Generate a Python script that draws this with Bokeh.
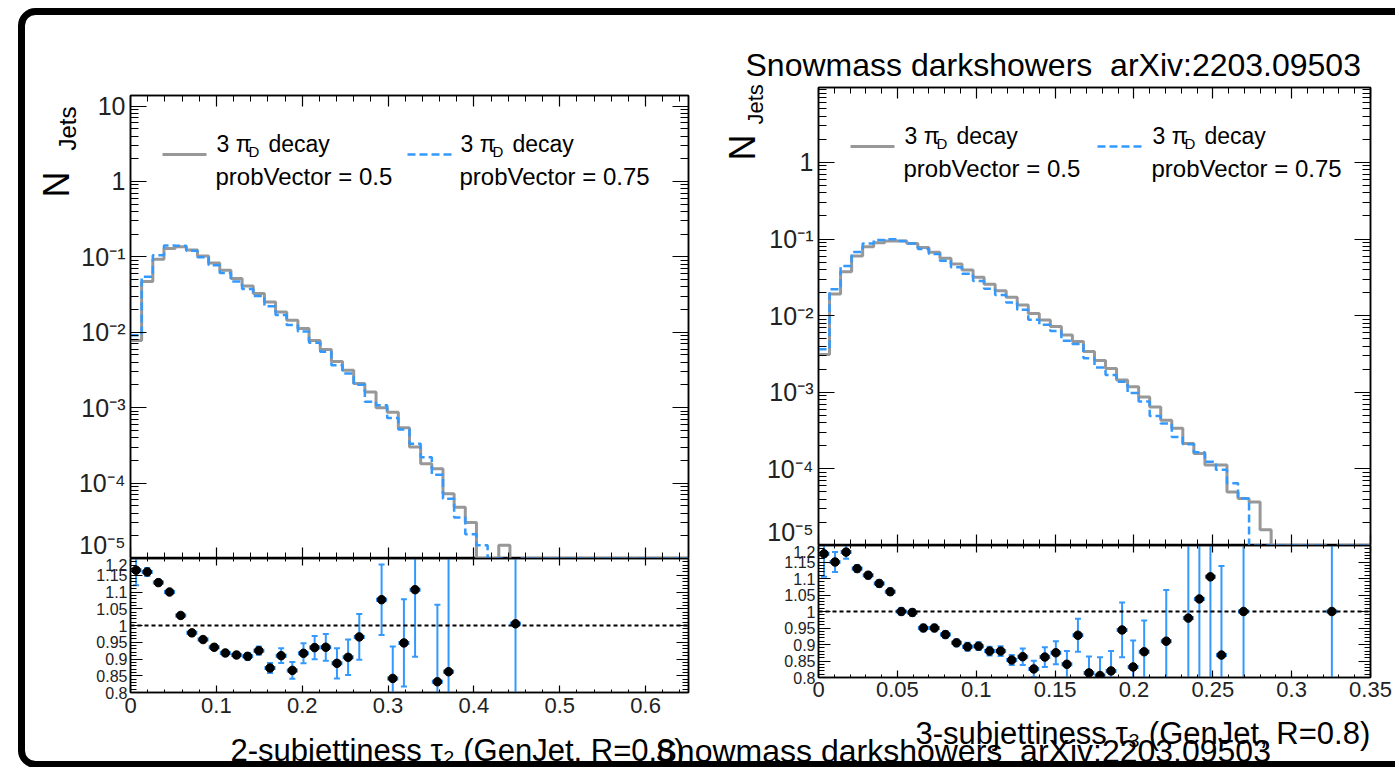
import math
from bokeh.plotting import figure
from bokeh.models import (Range1d, FixedTicker, LinearAxis, LogAxis, Span, Label,
                          ColumnDataSource, CustomJSTickFormatter, BoxAnnotation)
from bokeh.layouts import column, row
from bokeh.embed import file_html
from bokeh.resources import INLINE

# ------------------------------------------------------------------ data
# tau2 panel: 50 bins on [0, 0.65]
tau2_range = (0.0, 0.65)
tau2_nbins = 50
tau2_pv050 = [0.0078, 0.047, 0.093, 0.129, 0.136, 0.123, 0.103, 0.083, 0.0665, 0.0515,
              0.0412, 0.0326, 0.0253, 0.0186, 0.0144, 0.0112, 0.0078, 0.0059, 0.0041, 0.00313,
              0.00209, 0.00162, 0.00100, 0.00087, 0.00054, 0.00030, 0.00018, 0.000155, 7.2e-5, 4.8e-5,
              3.0e-5, 0, 0, 1.5e-5, 8e-6, 0, 0, 0, 0, 0,
              0, 0, 0, 0, 0, 0, 0, 0, 0, 0]
tau2_pv075 = [0.0091, 0.0545, 0.105, 0.142, 0.140, 0.1203, 0.0987, 0.0776, 0.0610, 0.0470,
              0.0374, 0.0302, 0.0221, 0.0169, 0.01247, 0.01027, 0.00729, 0.00552, 0.00364, 0.00283,
              0.00202, 0.0012, 0.00108, 0.00073, 0.000512, 0.000332, 0.00022, 0.000129, 6.2e-5, 3.5e-5,
              2.1e-5, 1.5e-5, 0, 0, 8e-6, 0, 0, 0, 0, 0,
              0, 0, 0, 0, 0, 0, 0, 0, 0, 0]
tau2_ratio_x = [0.0065, 0.0195, 0.0325, 0.0455, 0.0585, 0.0715, 0.0845, 0.0975, 0.1105, 0.1235,
                0.1365, 0.1495, 0.1625, 0.1755, 0.1885, 0.2015, 0.2145, 0.2275, 0.2405, 0.2535,
                0.2665, 0.2925, 0.3055, 0.3185, 0.3315, 0.3575, 0.3705, 0.4485]
tau2_ratio = [1.165, 1.16, 1.128, 1.10, 1.03, 0.978, 0.958, 0.935, 0.918, 0.912,
              0.908, 0.925, 0.873, 0.91, 0.866, 0.917, 0.934, 0.935, 0.887, 0.905,
              0.966, 1.077, 0.842, 0.948, 1.107, 0.832, 0.862, 1.005]
tau2_ratio_err = [0.045, 0.012, 0.008, 0.007, 0.007, 0.007, 0.007, 0.008, 0.008, 0.009,
                  0.01, 0.012, 0.015, 0.022, 0.025, 0.03, 0.035, 0.04, 0.045, 0.053,
                  0.068, 0.105, 0.095, 0.13, 0.2, 0.23, 0.35, 0.6]

# tau3 panel: 50 bins on [0, 0.35]
tau3_range = (0.0, 0.35)
tau3_nbins = 50
tau3_pv050 = [0.0031, 0.0192, 0.0375, 0.060, 0.079, 0.0896, 0.094, 0.094, 0.0877, 0.0778,
              0.067, 0.056, 0.0472, 0.0394, 0.0317, 0.0256, 0.0212, 0.0174, 0.0138, 0.0107,
              0.0088, 0.0072, 0.0056, 0.0046, 0.0034, 0.0026, 0.00205, 0.00145, 0.00118, 0.00087,
              0.00064, 0.00043, 0.00034, 0.000215, 0.000159, 0.000112, 0.000112, 5.0e-5, 4.1e-5, 3.7e-5,
              1.6e-5, 0, 0, 0, 0, 0, 8e-6, 0, 0, 0]
tau3_pv075 = [0.00364, 0.0221, 0.0443, 0.0678, 0.0877, 0.0972, 0.0996, 0.094, 0.0874, 0.0739,
              0.0637, 0.0521, 0.0427, 0.0352, 0.0284, 0.0225, 0.01866, 0.01484, 0.01191, 0.00884,
              0.00759, 0.0063, 0.0047, 0.00427, 0.00277, 0.0021, 0.00168, 0.00137, 0.00098, 0.00076,
              0.00049, 0.00039, 0.00026, 0.00021, 0.000165, 0.000124, 0.0000972, 6.5e-5, 4.1e-5, 0,
              0, 0, 0, 0, 0, 0, 8e-6, 0, 0, 0]
tau3_ratio_x = [0.0035, 0.0105, 0.0175, 0.0245, 0.0315, 0.0385, 0.0455, 0.0525, 0.0595, 0.0665,
                0.0735, 0.0805, 0.0875, 0.0945, 0.1015, 0.1085, 0.1155, 0.1225, 0.1295, 0.1365,
                0.1435, 0.1505, 0.1575, 0.1645, 0.1715, 0.1785, 0.1855, 0.1925, 0.1995, 0.2065,
                0.2205, 0.2345, 0.2415, 0.2485, 0.2555, 0.2695, 0.3255]
tau3_ratio = [1.175, 1.15, 1.18, 1.13, 1.11, 1.085, 1.06, 1.0, 0.997, 0.95,
              0.95, 0.93, 0.905, 0.893, 0.895, 0.88, 0.88, 0.853, 0.863, 0.826,
              0.862, 0.875, 0.84, 0.928, 0.814, 0.806, 0.82, 0.944, 0.832, 0.878,
              0.91, 0.98, 1.038, 1.105, 0.868, 1.0, 1.0]
tau3_ratio_err = [0.07, 0.03, 0.02, 0.01, 0.01, 0.01, 0.01, 0.01, 0.01, 0.01,
                  0.01, 0.01, 0.01, 0.012, 0.012, 0.013, 0.015, 0.015, 0.025, 0.025,
                  0.03, 0.035, 0.04, 0.05, 0.05, 0.055, 0.06, 0.083, 0.08, 0.095,
                  0.155, 0.25, 0.3, 0.35, 0.27, 0.5, 0.5]

legend_line1 = "3 \u03c0"
legend_sub = "D"
legend_line1b = "decay"
legend_line2 = ["probVector = 0.5", "probVector = 0.75"]
tau2_title = "2-subjettiness \u03c4\u2082 (GenJet, R=0.8)"
tau3_title = "3-subjettiness \u03c4\u2083 (GenJet, R=0.8)"
tag_text = "Snowmass darkshowers \u00a0arXiv:2203.09503"

# ------------------------------------------------------------------ style
FONT = "Liberation Sans"
GREY = "#989898"
BLUE = "#3399ff"
YMIN = 1e-5
GREY_STYLE = dict(line_color=GREY, line_width=3)
BLUE_STYLE = dict(line_color=BLUE, line_width=2.5, line_dash="8 4")

LOG_FMT = CustomJSTickFormatter(code="""
const e = Math.round(Math.log10(tick));
if (e === 0) return "1";
if (e === 1) return "10";
const sup = {"-": "\\u207b", "0": "\\u2070", "1": "\\u00b9", "2": "\\u00b2", "3": "\\u00b3",
             "4": "\\u2074", "5": "\\u2075", "6": "\\u2076"};
return "10" + String(e).split("").map(c => sup[c]).join("");
""")
LIN_FMT = CustomJSTickFormatter(code="""
if (Math.abs(tick) < 1e-9) return "0";
return String(+tick.toFixed(3));
""")
NO_FMT = CustomJSTickFormatter(code="return '';")


def style_axis(ax, major_in, minor_in, labels, size="22px", standoff=4):
    ax.major_tick_in = major_in
    ax.major_tick_out = 0
    ax.minor_tick_in = minor_in
    ax.minor_tick_out = 0
    ax.axis_line_color = "black"
    ax.axis_line_width = 1.5
    ax.major_tick_line_color = "black"
    ax.minor_tick_line_color = "black"
    ax.major_tick_line_width = 1.2
    ax.minor_tick_line_width = 1.0
    ax.axis_label = None
    if labels:
        ax.major_label_text_font = FONT
        ax.major_label_text_font_size = size
        ax.major_label_text_color = "#222222"
        ax.major_label_standoff = standoff
    else:
        ax.formatter = NO_FMT
        ax.major_label_text_font_size = "2px"
        ax.major_label_standoff = 0


def lin_ticks(lo, hi, step, sub):
    n = int(math.floor((hi - lo) / step + 1e-6))
    major = [round(lo + i * step, 6) for i in range(n + 1)]
    fine = step / sub
    m = int(math.floor((hi - lo) / fine + 1e-6))
    minor = [round(lo + i * fine, 6) for i in range(m + 1) if i % sub]
    return major, minor


def base_fig(fw, fh, xr, yr, bl, br, bt, bb, log=False):
    kw = dict(y_axis_type="log") if log else {}
    p = figure(frame_width=fw, frame_height=fh, x_range=xr, y_range=yr,
               output_backend="svg", toolbar_location=None,
               min_border_left=bl, min_border_right=br, min_border_top=bt,
               min_border_bottom=bb, **kw)
    p.grid.visible = False
    p.outline_line_color = "black"
    p.outline_line_width = 1.5
    p.border_fill_alpha = 0
    return p


def main_panel(rng, nbins, v050, v075, ytop, fw, fh, bl, br, bt, xstep, xsub):
    lo, hi = rng
    edges = [lo + i * (hi - lo) / nbins for i in range(nbins + 1)]
    p = base_fig(fw, fh, Range1d(lo, hi), Range1d(YMIN, ytop), bl, br, bt, 0, log=True)

    xmaj, xmin = lin_ticks(lo, hi, xstep, xsub)
    ymaj = [10.0 ** e for e in range(-5, 2)]
    ymin = [m * 10.0 ** e for e in range(-5, 2) for m in range(2, 10)]

    p.yaxis.ticker = FixedTicker(ticks=ymaj, minor_ticks=ymin)
    p.yaxis.formatter = LOG_FMT
    style_axis(p.yaxis[0], 16, 8, True, "25px", 5)
    p.xaxis.ticker = FixedTicker(ticks=xmaj, minor_ticks=xmin)
    style_axis(p.xaxis[0], 11, 6, False)

    ax_r = LogAxis(ticker=FixedTicker(ticks=ymaj, minor_ticks=ymin))
    style_axis(ax_r, 16, 8, False)
    p.add_layout(ax_r, "right")
    ax_t = LinearAxis(ticker=FixedTicker(ticks=xmaj, minor_ticks=xmin))
    style_axis(ax_t, 11, 6, False)
    p.add_layout(ax_t, "above")

    def src(vals):
        ys = [v if v > 0 else YMIN for v in vals]
        return ColumnDataSource(dict(x=edges, y=ys + [ys[-1]]))

    p.step("x", "y", source=src(v050), mode="after", **GREY_STYLE)
    p.step("x", "y", source=src(v075), mode="after", **BLUE_STYLE)
    return p


def ratio_panel(rng, nbins, rx, ry, re, fw, fh, bl, br, bb, xstep, xsub, xstandoff):
    lo, hi = rng
    bw = (hi - lo) / nbins
    p = base_fig(fw, fh, Range1d(lo, hi), Range1d(0.8, 1.2), bl, br, 0, bb)

    xmaj, xmin = lin_ticks(lo, hi, xstep, xsub)
    ymaj, ymin = lin_ticks(0.8, 1.2, 0.05, 5)
    p.xaxis.ticker = FixedTicker(ticks=xmaj, minor_ticks=xmin)
    p.xaxis.formatter = LIN_FMT
    style_axis(p.xaxis[0], 7, 3, True, "22px", xstandoff)
    p.yaxis.ticker = FixedTicker(ticks=ymaj, minor_ticks=ymin)
    p.yaxis.formatter = LIN_FMT
    style_axis(p.yaxis[0], 12, 6, True, "16px", 3)

    ax_r = LinearAxis(ticker=FixedTicker(ticks=ymaj, minor_ticks=ymin))
    style_axis(ax_r, 12, 6, False)
    p.add_layout(ax_r, "right")
    ax_t = LinearAxis(ticker=FixedTicker(ticks=xmaj, minor_ticks=xmin))
    style_axis(ax_t, 7, 3, False)
    p.add_layout(ax_t, "above")

    p.add_layout(Span(location=1.0, dimension="width", line_color="black",
                      line_dash="4 3", line_width=1.8))

    src = ColumnDataSource(dict(
        x=rx, y=ry,
        x0=[x - bw / 2 for x in rx], x1=[x + bw / 2 for x in rx],
        lo=[y - e for y, e in zip(ry, re)], hi=[y + e for y, e in zip(ry, re)]))
    p.segment("x", "lo", "x", "hi", source=src, line_color=BLUE, line_width=2)
    p.segment("x0", "y", "x1", "y", source=src, line_color=BLUE, line_width=4)
    caps_x = [x for x, y, e in zip(rx, ry, re) if y + e < 1.2] + \
             [x for x, y, e in zip(rx, ry, re) if y - e > 0.8]
    caps_y = [y + e for x, y, e in zip(rx, ry, re) if y + e < 1.2] + \
             [y - e for x, y, e in zip(rx, ry, re) if y - e > 0.8]
    p.scatter(caps_x, caps_y, marker="dash", size=6, line_color=BLUE, line_width=2)
    p.scatter("x", "y", source=src, size=8.5, fill_color="black", line_color="black")
    return p


# ------------------------------------------------------------------ panels
lm = main_panel(tau2_range, tau2_nbins, tau2_pv050, tau2_pv075, 13.8,
                558, 463, 105, 12, 80, 0.1, 5)
lr = ratio_panel(tau2_range, tau2_nbins, tau2_ratio_x, tau2_ratio, tau2_ratio_err,
                 558, 134, 105, 12, 40, 0.1, 5, 5)
rm = main_panel(tau3_range, tau3_nbins, tau3_pv050, tau3_pv075, 9.5,
                552, 458, 118, 25, 72, 0.05, 5)
rr = ratio_panel(tau3_range, tau3_nbins, tau3_ratio_x, tau3_ratio, tau3_ratio_err,
                 552, 132, 118, 25, 55, 0.05, 5, 4)

plots = row(column(lm, lr, spacing=0), column(rm, rr, spacing=0), spacing=0,
            margin=(15, 0, 0, 25))

# ------------------------------------------------------------------ overlay in window pixels
ov = figure(width=1395, height=767, x_range=Range1d(0, 1395), y_range=Range1d(767, 0),
            output_backend="svg", toolbar_location=None, min_border=0,
            x_axis_location=None, y_axis_location=None)
ov.margin = (-732, 0, 0, 0)
ov.grid.visible = False
ov.outline_line_color = None
ov.background_fill_alpha = 0
ov.border_fill_alpha = 0

box_kw = dict(left=21, right=1430, top=11, bottom=764, fill_alpha=0,
              line_color="black", line_alpha=1, line_width=7)
try:
    frame_box = BoxAnnotation(border_radius=14, **box_kw)
except Exception:
    frame_box = BoxAnnotation(**box_kw)
ov.add_layout(frame_box)


def lab(text, x, y, size, angle=0.0):
    ov.add_layout(Label(x=x, y=y, text=text, text_font=FONT, text_font_size=f"{size}px",
                        text_color="black", text_align="left", text_baseline="alphabetic",
                        angle=angle))


# legend keys (line samples) and texts
for (kx, ky, style) in [(162, 154, GREY_STYLE), (407, 154, BLUE_STYLE),
                        (850, 146, GREY_STYLE), (1097, 146, BLUE_STYLE)]:
    ov.line([kx, kx + 44], [ky, ky], **style)

for (x0, yb, txt) in [(216, 143, legend_line2[0]), (460, 143, legend_line2[1]),
                      (904, 135, legend_line2[0]), (1152, 135, legend_line2[1])]:
    lab(legend_line1, x0, yb, 23)
    lab(legend_sub, x0 + 32, yb + 8, 15)
    lab(legend_line1b, x0 + 52, yb, 23)
    lab(txt, x0 - 1, yb + 33, 24)

# y titles
lab("N", 56, 197, 36, math.pi / 2)
lab("Jets", 67, 150, 24, math.pi / 2)
lab("N", 742, 160, 36, math.pi / 2)
lab("Jets", 755, 124, 22, math.pi / 2)

# x titles and tags
lab(tau2_title, 230, 750, 31)
lab(tau3_title, 915, 733, 31)
lab(tag_text, 745, 64, 32)
lab(tag_text, 655, 750, 32)

layout = column(plots, ov, spacing=0)
open("out.html", "w").write(file_html(layout, INLINE, "tau"))
